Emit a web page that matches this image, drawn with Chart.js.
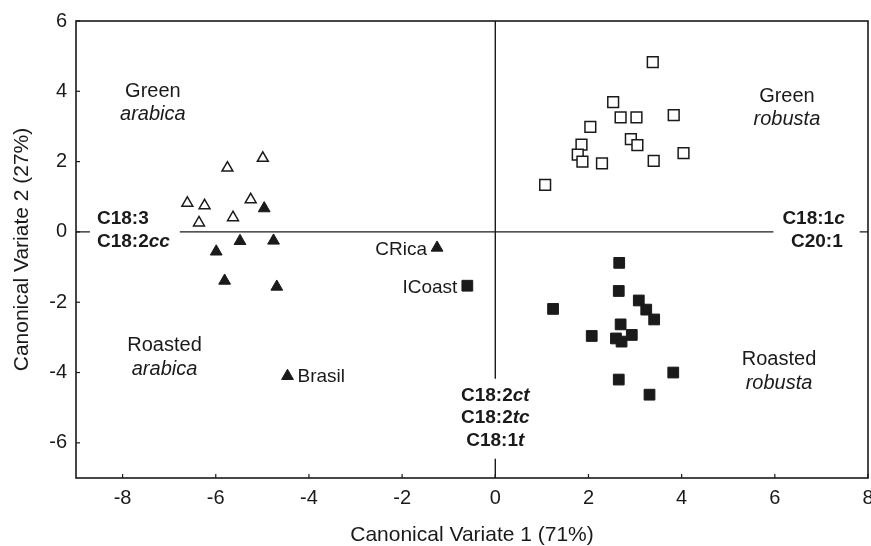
<!DOCTYPE html>
<html><head><meta charset="utf-8">
<script src="https://cdn.jsdelivr.net/npm/chart.js@4.4.1/dist/chart.umd.min.js"></script>
<style>html,body{margin:0;padding:0;background:#fff;} #wrap{width:871px;height:546px;}</style>
</head><body><div id="wrap"><canvas id="c" width="871" height="546"></canvas></div>
<script>
// ---- data ----
const xTickValues = [-8, -6, -4, -2, 0, 2, 4, 6, 8];
const yTickValues = [-6, -4, -2, 0, 2, 4, 6];
const xTitle = 'Canonical Variate 1 (71%)';
const yTitle = 'Canonical Variate 2 (27%)';

const greenArabicaX = [-6.61, -6.24, -6.36, -5.75, -4.99, -5.25, -5.63];
const greenArabicaY = [0.82, 0.75, 0.26, 1.82, 2.10, 0.92, 0.41];

const roastedArabicaX = [-4.96, -5.48, -4.76, -5.99, -5.81, -4.69, -4.46, -1.25];
const roastedArabicaY = [0.67, -0.26, -0.25, -0.56, -1.39, -1.56, -4.10, -0.45];
const roastedArabicaNames = ['', '', '', '', '', '', 'Brasil', 'CRica'];

const greenRobustaX = [3.38, 2.53, 2.69, 3.03, 3.83, 2.04, 1.85, 1.77, 1.87, 2.29, 2.91, 3.05, 3.40, 4.04, 1.07];
const greenRobustaY = [4.83, 3.69, 3.26, 3.26, 3.32, 2.99, 2.48, 2.20, 2.00, 1.95, 2.64, 2.47, 2.02, 2.24, 1.34];

const roastedRobustaX = [-0.60, 1.24, 2.07, 2.66, 2.65, 3.08, 3.24, 3.41, 2.69, 2.59, 2.71, 2.93, 2.65, 3.82, 3.31];
const roastedRobustaY = [-1.53, -2.19, -2.96, -0.88, -1.68, -1.95, -2.21, -2.49, -2.63, -3.03, -3.12, -2.93, -4.20, -4.00, -4.63];
const roastedRobustaNames = ['ICoast', '', '', '', '', '', '', '', '', '', '', '', '', '', ''];

const INK = '#1a1a1a';
const FONT = '"Liberation Sans", Arial, sans-serif';

function pts(xs, ys) { return xs.map((x, i) => ({ x: x, y: ys[i] })); }

const groupLabels = [
  { x: -7.35, y: 4.0, lines: [[['Green', '']], [['arabica', 'italic']]] },
  { x: -7.1, y: -3.24, lines: [[['Roasted', '']], [['arabica', 'italic']]] },
  { x: 6.26, y: 3.86, lines: [[['Green', '']], [['robusta', 'italic']]] },
  { x: 6.09, y: -3.64, lines: [[['Roasted', '']], [['robusta', 'italic']]] }
];

function segWidth(ctx, segs, size, base) {
  let w = 0;
  segs.forEach(s => { ctx.font = `${s[1]} ${base} ${size}px ${FONT}`.replace(/\s+/g, ' ').trim(); w += ctx.measureText(s[0]).width; });
  return w;
}
function drawSegs(ctx, segs, x, y, size, base) {
  let cx = x;
  segs.forEach(s => {
    ctx.font = `${s[1]} ${base} ${size}px ${FONT}`.replace(/\s+/g, ' ').trim();
    ctx.fillText(s[0], cx, y);
    cx += ctx.measureText(s[0]).width;
  });
}

const decor = {
  id: 'decor',
  beforeDatasetsDraw(chart) {
    const ctx = chart.ctx, xs = chart.scales.x, ys = chart.scales.y, a = chart.chartArea;
    ctx.save();
    ctx.strokeStyle = INK; ctx.lineWidth = 1.6;
    ctx.strokeRect(a.left, a.top, a.right - a.left, a.bottom - a.top);
    ctx.lineWidth = 1.2;
    xs.ticks.forEach(t => { const px = xs.getPixelForValue(t.value); ctx.beginPath(); ctx.moveTo(px, a.bottom); ctx.lineTo(px, a.bottom - 4); ctx.stroke(); });
    ys.ticks.forEach(t => { const py = ys.getPixelForValue(t.value); ctx.beginPath(); ctx.moveTo(a.left, py); ctx.lineTo(a.left + 4, py); ctx.stroke(); });
    const x0 = xs.getPixelForValue(0), y0 = ys.getPixelForValue(0);
    ctx.lineWidth = 1.4;
    ctx.beginPath(); ctx.moveTo(a.left, y0); ctx.lineTo(a.right, y0); ctx.stroke();
    ctx.beginPath(); ctx.moveTo(x0, a.top); ctx.lineTo(x0, a.bottom); ctx.stroke();

    ctx.textBaseline = 'middle';
    ctx.fillStyle = INK;
    const bs = 19;
    {
      const lx = xs.getPixelForValue(-8.55);
      const l1 = [['C18:3', '']], l2 = [['C18:2', ''], ['cc', 'italic']];
      const w = Math.max(segWidth(ctx, l1, bs, 'bold'), segWidth(ctx, l2, bs, 'bold'));
      ctx.fillStyle = '#fff'; ctx.fillRect(lx - 7, y0 - 25, w + 17, 50);
      ctx.fillStyle = INK;
      drawSegs(ctx, l1, lx, y0 - 13, bs, 'bold');
      drawSegs(ctx, l2, lx, y0 + 10, bs, 'bold');
    }
    {
      const rx = xs.getPixelForValue(7.5);
      const l1 = [['C18:1', ''], ['c', 'italic']], l2 = [['C20:1', '']];
      const w1 = segWidth(ctx, l1, bs, 'bold'), w2 = segWidth(ctx, l2, bs, 'bold');
      const w = Math.max(w1, w2);
      ctx.fillStyle = '#fff'; ctx.fillRect(rx - w - 9, y0 - 25, w + 24, 50);
      ctx.fillStyle = INK;
      drawSegs(ctx, l1, rx - w1, y0 - 13, bs, 'bold');
      drawSegs(ctx, l2, rx - w2 - 2, y0 + 10, bs, 'bold');
    }
    {
      const cy = ys.getPixelForValue(-4.66);
      const lines = [[['C18:2', ''], ['ct', 'italic']], [['C18:2', ''], ['tc', 'italic']], [['C18:1', ''], ['t', 'italic']]];
      ctx.fillStyle = '#fff'; ctx.fillRect(x0 - 45, cy - 17, 90, 80);
      ctx.fillStyle = INK;
      lines.forEach((l, i) => { const w = segWidth(ctx, l, bs, 'bold'); drawSegs(ctx, l, x0 - w / 2, cy + i * 22.5, bs, 'bold'); });
    }
    groupLabels.forEach(g => {
      const cx = xs.getPixelForValue(g.x), cy = ys.getPixelForValue(g.y);
      g.lines.forEach((l, i) => { const w = segWidth(ctx, l, 20, ''); drawSegs(ctx, l, cx - w / 2, cy + i * 23.5, 20, ''); });
    });
    ctx.restore();
  },
  afterDatasetsDraw(chart) {
    const ctx = chart.ctx;
    ctx.save();
    ctx.fillStyle = INK; ctx.textBaseline = 'middle';
    ctx.font = `19px ${FONT}`;
    const named = [[1, roastedArabicaNames], [3, roastedRobustaNames]];
    named.forEach(([di, names]) => {
      const meta = chart.getDatasetMeta(di);
      names.forEach((n, i) => {
        if (!n) return;
        const el = meta.data[i];
        if (n === 'Brasil') { ctx.textAlign = 'left'; ctx.fillText(n, el.x + 10, el.y + 1); }
        else { ctx.textAlign = 'right'; ctx.fillText(n, el.x - 10, el.y + 2); }
      });
    });
    ctx.restore();
  }
};

function keepTicks(vals) {
  return function (scale) { scale.ticks = vals.map(v => ({ value: v })); };
}
function noPad(s) {
  s.paddingLeft = 0; s.paddingRight = 0; s.paddingTop = 0; s.paddingBottom = 0;
}

new Chart(document.getElementById('c'), {
  type: 'scatter',
  data: {
    datasets: [
      { label: 'Green arabica', data: pts(greenArabicaX, greenArabicaY), pointStyle: 'triangle', pointRadius: 6.3, backgroundColor: '#fff', borderColor: INK, borderWidth: 1.5 },
      { label: 'Roasted arabica', data: pts(roastedArabicaX, roastedArabicaY), pointStyle: 'triangle', pointRadius: 6.8, backgroundColor: INK, borderColor: INK, borderWidth: 1 },
      { label: 'Green robusta', data: pts(greenRobustaX, greenRobustaY), pointStyle: 'rect', pointRadius: 7.6, backgroundColor: '#fff', borderColor: INK, borderWidth: 1.5 },
      { label: 'Roasted robusta', data: pts(roastedRobustaX, roastedRobustaY), pointStyle: 'rect', pointRadius: 7.6, backgroundColor: INK, borderColor: INK, borderWidth: 1 }
    ]
  },
  options: {
    responsive: false,
    animation: false,
    devicePixelRatio: 1,
    layout: { autoPadding: false, padding: { top: 21, right: 3, left: 0, bottom: 0 } },
    plugins: { legend: { display: false }, tooltip: { enabled: false } },
    scales: {
      x: {
        type: 'linear', min: -9, max: 8,
        afterBuildTicks: keepTicks(xTickValues),
        afterFit(s) { s.height = 68; noPad(s); },
        grid: { display: false, drawTicks: false },
        border: { display: false },
        ticks: { color: INK, font: { family: FONT, size: 20 }, padding: 8, maxRotation: 0 },
        title: { display: true, text: xTitle, color: INK, font: { family: FONT, size: 21, lineHeight: 1.0 }, padding: { top: 0, bottom: 0 } }
      },
      y: {
        type: 'linear', min: -7, max: 6,
        afterBuildTicks: keepTicks(yTickValues),
        afterFit(s) { s.width = 76; noPad(s); },
        grid: { display: false, drawTicks: false },
        border: { display: false },
        ticks: { color: INK, font: { family: FONT, size: 20 }, padding: 9 },
        title: { display: true, text: yTitle, color: INK, font: { family: FONT, size: 21, lineHeight: 1.0 }, padding: { top: 12, bottom: 0 } }
      }
    }
  },
  plugins: [decor]
});
</script>
</body></html>
